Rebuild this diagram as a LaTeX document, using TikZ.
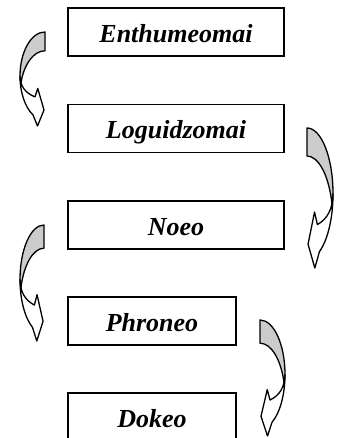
\documentclass[tikz,border=0pt]{standalone}
\usepackage{fontspec}
\setmainfont{Liberation Serif}
\tikzset{
  bandback/.style={fill=black!20, draw=black, line width=1.3pt, line join=round},
  bandfront/.style={fill=white, draw=black, line width=1.3pt, line join=round}
}
\newcommand{\bandarrowshape}{%
    \path[bandback] (0,0.53) arc[start angle=180,end angle=90,x radius=1,y radius=0.47]
      -- (1,0.8) arc[start angle=90,end angle=165,x radius=1,y radius=0.47] -- cycle;
    \path[bandfront] (0,0.53) arc[start angle=180,end angle=241.3,x radius=1,y radius=0.47]
      -- (0.70,0) -- (0.96,0.17) -- (0.71,0.40) -- (0.6,0.31)
      .. controls (0.22,0.35) and (0.01,0.42) .. (0,0.53) -- cycle;
}
\begin{document}
\begin{tikzpicture}[x=1pt,y=1pt,
  box/.style={draw, line width=1.3pt, minimum height=48pt, text height=24pt, text depth=3pt,
    inner sep=0pt, font=\fontsize{26}{30}\selectfont\bfseries\itshape},
  widebox/.style={box, minimum width=216pt},
  narrowbox/.style={box, minimum width=168pt}]
\useasboundingbox (0,0) rectangle (341,438);
\clip (0,0) rectangle (341,438);
\node[widebox] (enth) at (176,406) {Enthumeomai};
\node[widebox] (logu) at (176,309.5) {Loguidzomai};
\node[widebox] (noeo) at (176,213) {Noeo};
\node[narrowbox] (phro) at (152,117) {Phroneo};
\node[narrowbox] (doke) at (152,21) {Dokeo};
\begin{scope}[shift={(20,312)}, xscale=25, yscale=94]
  \bandarrowshape
\end{scope}
\begin{scope}[shift={(333,170)}, xscale=-26, yscale=140]
  \bandarrowshape
\end{scope}
\begin{scope}[shift={(20,97)}, xscale=24, yscale=116]
  \bandarrowshape
\end{scope}
\begin{scope}[shift={(285,2)}, xscale=-25, yscale=116]
  \bandarrowshape
\end{scope}
\end{tikzpicture}
\end{document}
